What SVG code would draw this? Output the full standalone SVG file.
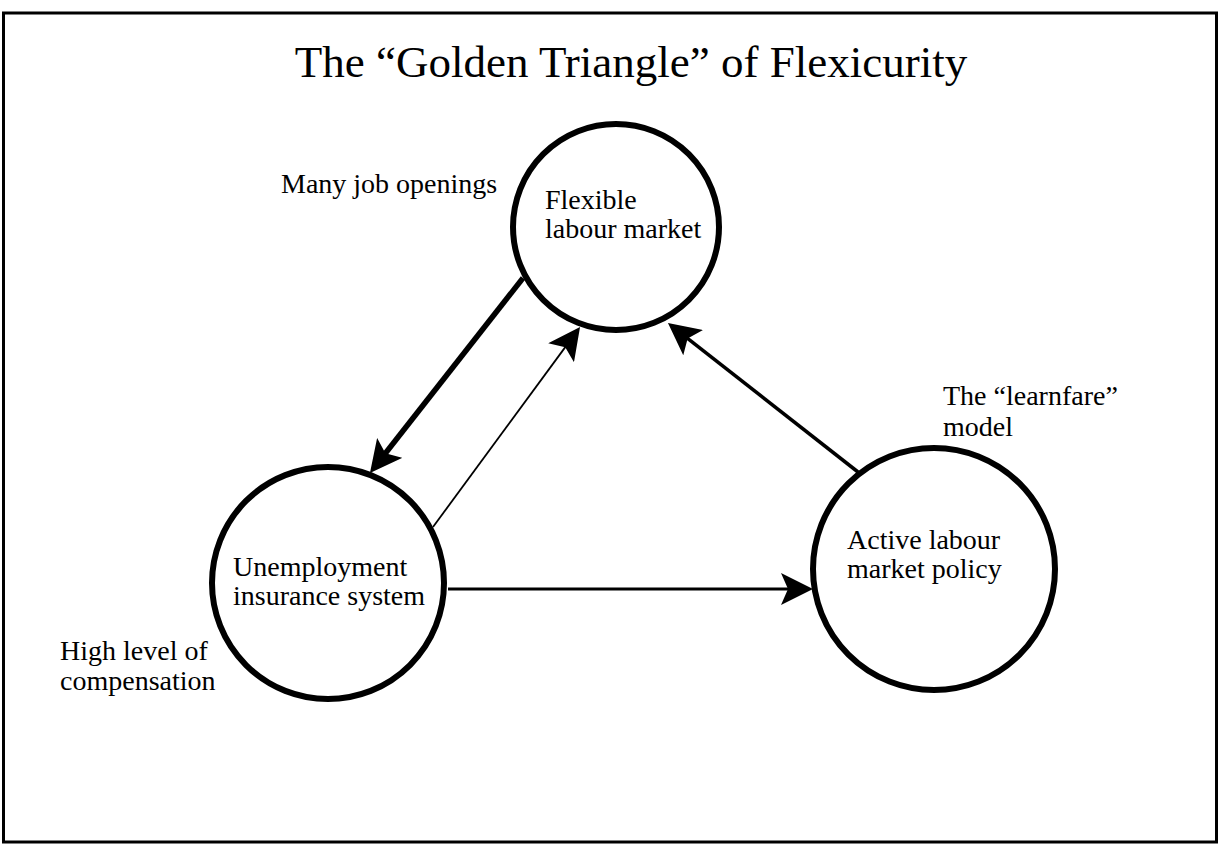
<svg xmlns="http://www.w3.org/2000/svg" width="1220" height="846" viewBox="0 0 1220 846">
<defs>
<style>
.t{font-family:"Liberation Serif","Times New Roman",serif;font-size:28px;fill:#000}
.title{font-family:"Liberation Serif","Times New Roman",serif;font-size:45px;fill:#000}
.c{fill:#fff;stroke:#000;stroke-width:6}
.ln{stroke:#000;fill:none}
</style>
<marker id="ah" viewBox="0 0 32 32" refX="12" refY="16" markerWidth="32" markerHeight="32" markerUnits="userSpaceOnUse" orient="auto">
<path d="M0,0 L32,16 L0,32 L7,16 z" fill="#000"/>
</marker>
</defs>
<rect x="0" y="0" width="1220" height="846" fill="#fff"/>
<rect x="3.5" y="13" width="1213" height="829" fill="none" stroke="#000" stroke-width="3"/>
<text class="title" x="631" y="77" text-anchor="middle">The “Golden Triangle” of Flexicurity</text>
<g id="connectors">
<line class="ln" x1="523" y1="278" x2="382.3" y2="457.3" stroke-width="5.5" marker-end="url(#ah)"/>
<line class="ln" x1="433" y1="527" x2="568.2" y2="343.1" stroke-width="1.8" marker-end="url(#ah)"/>
<line class="ln" x1="448" y1="589" x2="793" y2="589" stroke-width="3" marker-end="url(#ah)"/>
<line class="ln" x1="858" y1="472" x2="683.7" y2="335.3" stroke-width="3.5" marker-end="url(#ah)"/>
</g>
<g id="flexible">
<circle class="c" cx="616" cy="227" r="103"/>
<text class="t" x="545" y="209">Flexible</text>
<text class="t" x="545" y="238">labour market</text>
</g>
<g id="unemployment">
<circle class="c" cx="328" cy="583" r="116"/>
<text class="t" x="233" y="576">Unemployment</text>
<text class="t" x="233" y="605">insurance system</text>
</g>
<g id="active">
<circle class="c" cx="934" cy="569" r="121"/>
<text class="t" x="847" y="549">Active labour</text>
<text class="t" x="847" y="578">market policy</text>
</g>
<g id="labels">
<text class="t" x="281" y="193">Many job openings</text>
<text class="t" x="943" y="405">The “learnfare”</text>
<text class="t" x="943" y="436">model</text>
<text class="t" x="60" y="660">High level of</text>
<text class="t" x="60" y="690">compensation</text>
</g>
</svg>
